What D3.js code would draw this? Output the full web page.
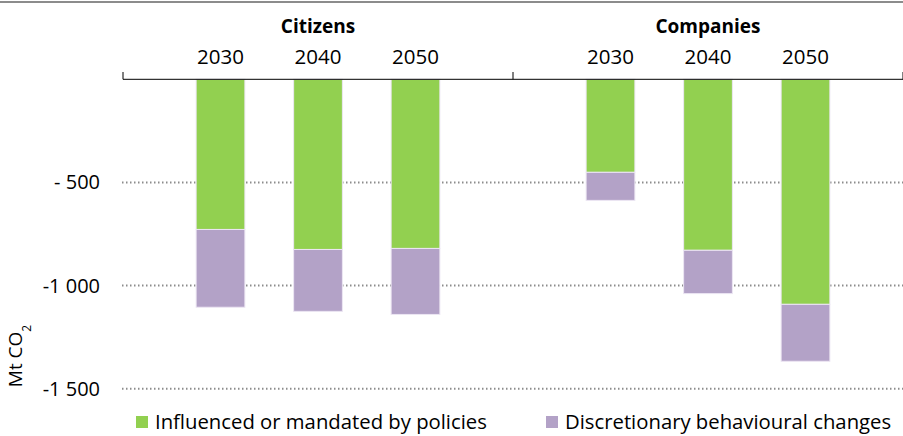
<!DOCTYPE html>
<html><head><meta charset="utf-8">
<script src="https://cdn.jsdelivr.net/npm/d3@7"></script>
<style>body{margin:0;background:#fff}svg{display:block}text{font-family:"Open Sans",sans-serif;fill:#000}</style>
</head><body><svg id="c" width="903" height="436"></svg>
<script>
const groups = ["Citizens", "Companies"];
const years = ["2030", "2040", "2050"];
const policies = [-728, -825, -820, -451, -829, -1091];
const discretionary = [-377, -300, -320, -136, -210, -276];
const yTicks = [-500, -1000, -1500];
const seriesNames = ["Influenced or mandated by policies", "Discretionary behavioural changes"];
const colors = ["#92D050", "#B3A2C7"];

const svg = d3.select("#c");
const W = 903, H = 436;

const slots = [];
groups.forEach((g, gi) => { slots.push("start-" + gi); years.forEach(y => slots.push(g + "-" + y)); });
slots.push("end");
const x = d3.scalePoint().domain(slots).range([123, 903]).padding(0);
const step = x.step();
const barW = step * 0.5;

const y = d3.scaleLinear().domain([0, -1500]).range([79.3, 388.7]);

const data = [];
groups.forEach((g, gi) => years.forEach((yr, yi) => {
  const i = gi * 3 + yi;
  data.push({ key: g + "-" + yr, group: g, year: yr, p: policies[i], d: discretionary[i] });
}));

svg.append("line").attr("x1", 0).attr("x2", W).attr("y1", 2).attr("y2", 2)
  .attr("stroke", "#8c8c8c").attr("stroke-width", 2);

svg.append("g").selectAll("line").data(yTicks).join("line")
  .attr("x1", 122).attr("x2", W).attr("y1", d => y(d)).attr("y2", d => y(d))
  .attr("stroke", "#8c8c8c").attr("stroke-width", 2).attr("stroke-dasharray", "1.5,2.5");

const fmt = v => {
  const s = Math.abs(v).toString();
  const withSp = s.length > 3 ? s.slice(0, s.length - 3) + " " + s.slice(-3) : s;
  return (s.length > 3 ? "-" : "- ") + withSp;
};
svg.append("g").selectAll("text").data(yTicks).join("text")
  .attr("x", 100).attr("y", d => y(d)).attr("dy", "0.35em")
  .attr("text-anchor", "end").style("font-size", "20px").text(fmt);

const stack = d3.stack().keys(["p", "d"]).offset(d3.stackOffsetDiverging)(data);
svg.append("g").selectAll("g").data(stack).join("g").attr("fill", (s, i) => colors[i])
  .selectAll("rect").data(s => s).join("rect")
  .attr("x", d => x(d.data.key) - barW / 2).attr("width", barW)
  .attr("y", d => Math.min(y(d[0]), y(d[1])))
  .attr("height", d => Math.abs(y(d[1]) - y(d[0])))
  .attr("stroke", "#ece6f3").attr("stroke-width", 1);

const axisG = svg.append("g");
axisG.append("line").attr("x1", x(slots[0])).attr("x2", x("end")).attr("y1", 79.3).attr("y2", 79.3)
  .attr("stroke", "#000").attr("stroke-width", 1);
const tickSlots = slots.filter(s => s.startsWith("start") || s === "end");
axisG.selectAll("line.t").data(tickSlots).join("line").attr("class", "t")
  .attr("x1", d => x(d)).attr("x2", d => x(d)).attr("y1", 72).attr("y2", 79.3)
  .attr("stroke", "#000").attr("stroke-width", 1);

svg.append("g").selectAll("text").data(data).join("text")
  .attr("x", d => x(d.key)).attr("y", 64).attr("text-anchor", "middle")
  .style("font-size", "20.5px").text(d => d.year);

svg.append("g").selectAll("text").data(groups).join("text")
  .attr("x", (g, gi) => (x("start-" + gi) + x(gi + 1 < groups.length ? "start-" + (gi + 1) : "end")) / 2)
  .attr("y", 33).attr("text-anchor", "middle").style("font-size", "19px").style("font-weight", "bold")
  .text(d => d);

svg.append("text").attr("transform", "translate(22,356) rotate(-90)")
  .attr("text-anchor", "middle").style("font-size", "19px")
  .html('Mt CO<tspan baseline-shift="sub" style="font-size:12px">2</tspan>');

const legX = [136, 546];
const leg = svg.append("g").selectAll("g").data(seriesNames).join("g")
  .attr("transform", (d, i) => `translate(${legX[i]},416)`);
leg.append("rect").attr("width", 12).attr("height", 12).attr("fill", (d, i) => colors[i]);
leg.append("text").attr("x", 19).attr("y", 6).attr("dy", "0.35em").style("font-size", "20.3px").text(d => d);
</script></body></html>
